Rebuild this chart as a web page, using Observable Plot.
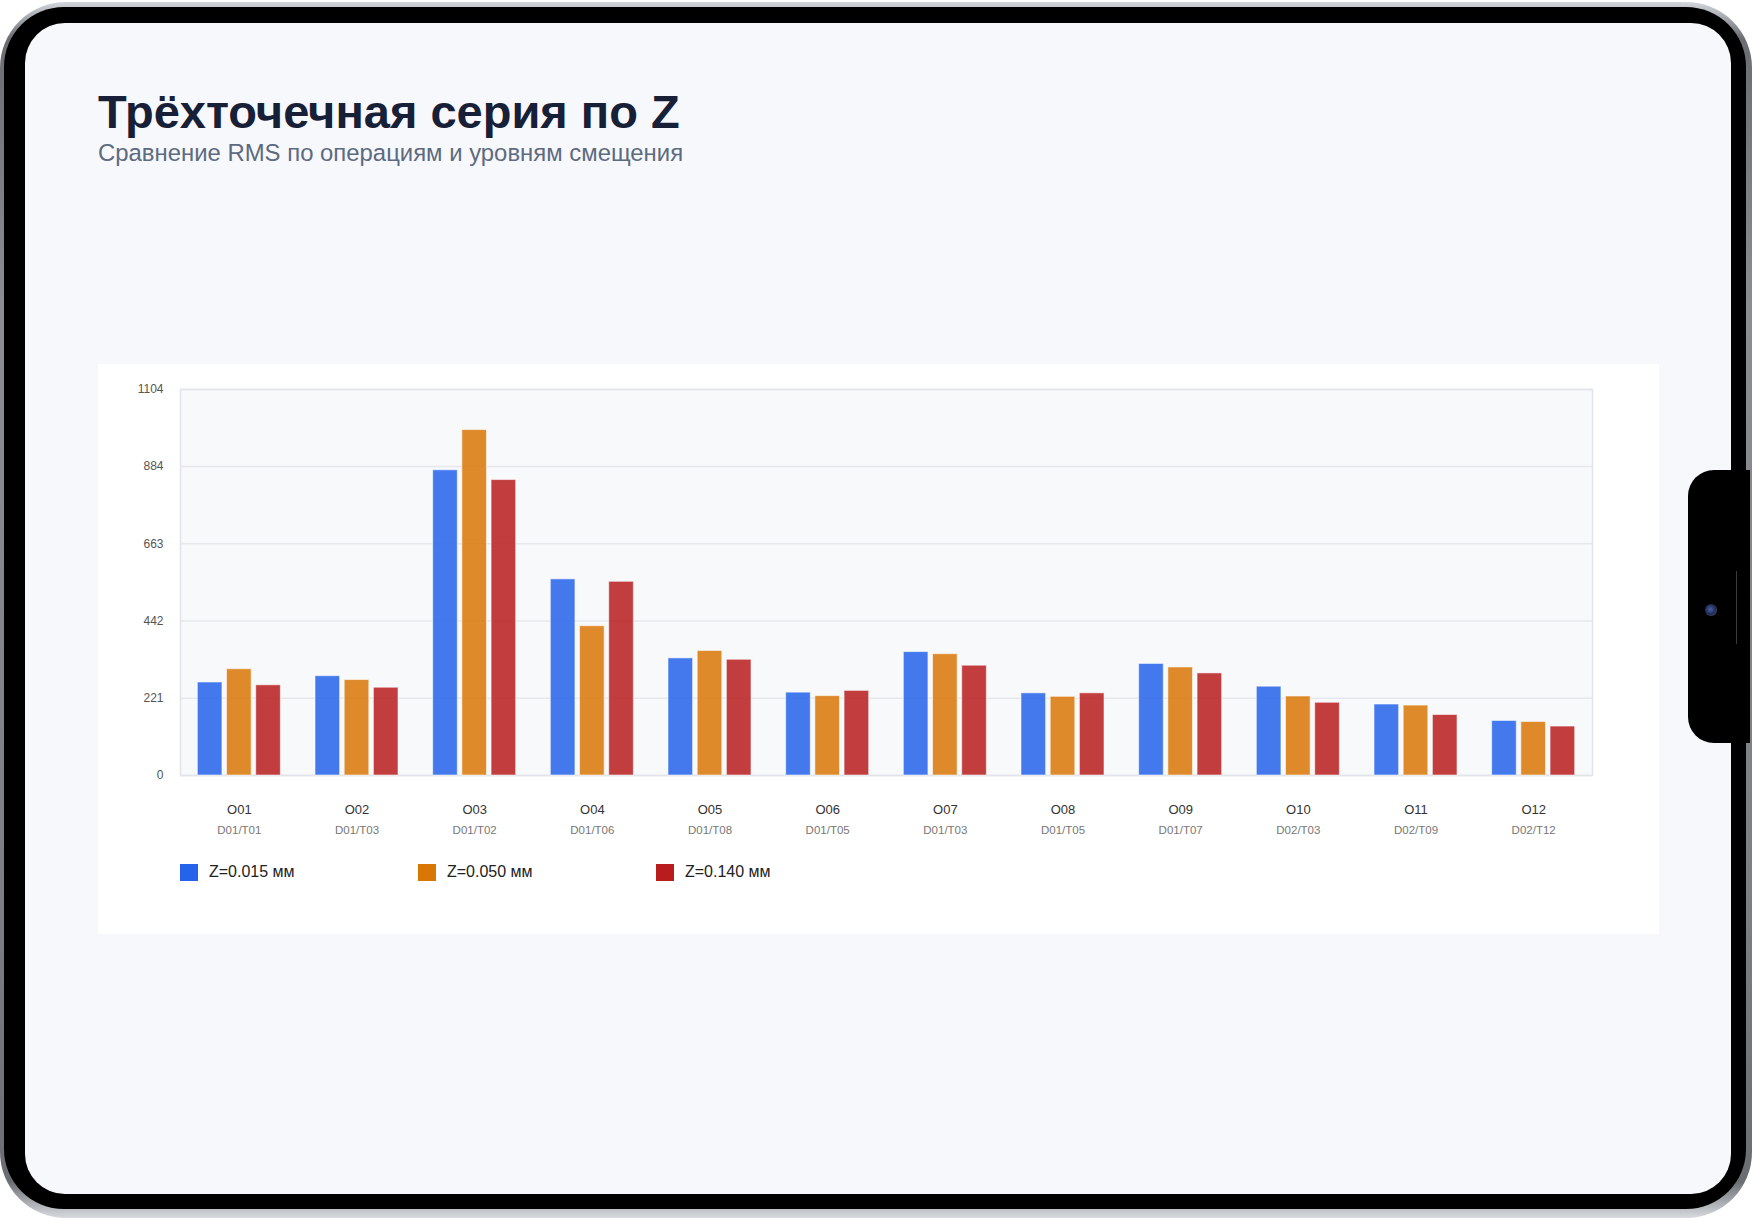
<!DOCTYPE html>
<html lang="ru">
<head>
<meta charset="utf-8">
<script src="https://cdn.jsdelivr.net/npm/d3@7"></script>
<script src="https://cdn.jsdelivr.net/npm/@observablehq/plot@0.6"></script>
<style>
  html, body { margin: 0; padding: 0; }
  body { width: 1753px; height: 1219px; background: #ffffff; position: relative; overflow: hidden;
         font-family: "Liberation Sans", Arial, Helvetica, sans-serif; }
  .rim { position: absolute; left: 0; top: 2px; width: 1752px; height: 1216px; border-radius: 66px;
         background: linear-gradient(180deg, #d3d6da 0%, #6a6d71 3%, #8a8d91 25%, #7b7e82 75%, #6a6d71 97%, #d7dade 100%); }
  .bezel { position: absolute; left: 4px; top: 7px; width: 1742px; height: 1202px; border-radius: 60px; background: #000; }
  .screen { position: absolute; left: 25px; top: 23px; width: 1706px; height: 1171px; border-radius: 40px; background: #f7f8fc; overflow: hidden; }
  .bump { position: absolute; left: 1688px; top: 470px; width: 62px; height: 273px; background: #000; border-radius: 26px 0 0 26px; }
  .cam { position: absolute; left: 1705px; top: 604px; width: 12px; height: 12px; border-radius: 50%;
         background: radial-gradient(circle at 45% 45%, #4a5f9c 0%, #1d2a55 55%, #585c66 80%, #111 100%); }
  .seam { position: absolute; left: 1736px; top: 571px; width: 1px; height: 73px; background: #3a3a3a; }
  .title { position: absolute; left: 98px; top: 88px; font-size: 47px; line-height: 1; font-weight: 700; color: #172036; white-space: nowrap; }
  .subtitle { position: absolute; left: 98px; top: 141px; font-size: 23.9px; line-height: 1; color: #5d6a80; white-space: nowrap; }
  .card { position: absolute; left: 98px; top: 364px; width: 1561px; height: 570px; background: #ffffff; }
  .card svg { position: absolute; left: 0; top: 0; }
  .legend { position: absolute; left: 0; top: 499px; height: 18px; width: 100%; }
  .item { position: absolute; top: 0; height: 18px; display: flex; align-items: center; }
  .sw { width: 18px; height: 17px; margin-right: 11px; }
  .lab { font-size: 16px; color: #222; white-space: nowrap; }
</style>
</head>
<body>
<div class="rim"></div>
<div class="bezel"></div>
<div class="screen"></div>
<div class="bump"></div>
<div class="cam"></div>
<div class="seam"></div>

<div class="title">Трёхточечная серия по Z</div>
<div class="subtitle">Сравнение RMS по операциям и уровням смещения</div>
<div class="card" id="card"></div>

<script>
// Operations (x groups) and their part/tool pairs
const codes = ["O01", "O02", "O03", "O04", "O05", "O06", "O07", "O08", "O09", "O10", "O11", "O12"];
const subs = ["D01/T01", "D01/T03", "D01/T02", "D01/T06", "D01/T08", "D01/T05",
              "D01/T03", "D01/T05", "D01/T07", "D02/T03", "D02/T09", "D02/T12"];

// Offset levels
const seriesNames = ["Z=0.015 мм", "Z=0.050 мм", "Z=0.140 мм"];
const seriesColors = ["#2563eb", "#d97706", "#b91c1c"];

// RMS per operation for each offset level
const z015 = [266, 284, 873, 561, 335, 237, 353, 235, 319, 254, 203, 156];
const z050 = [304, 273, 988, 427, 356, 227, 347, 225, 309, 226, 200, 153];
const z140 = [258, 251, 845, 554, 331, 242, 314, 235, 292, 208, 173, 140];

// Y axis ticks
const yTicks = [0, 221, 442, 663, 884, 1104];
const yMax = 1104;

const seriesValues = [z015, z050, z140];
const rows = codes.flatMap((code, i) =>
  seriesNames.map((s, k) => ({code, series: s, value: seriesValues[k][i]}))
);

// Shared layout so the two layers line up exactly
const layout = {
  width: 1561,
  height: 490,
  marginLeft: 82,
  marginRight: 67,
  marginTop: 25,
  marginBottom: 79,
  style: {background: "transparent", fontFamily: "'Liberation Sans', Arial, Helvetica, sans-serif"}
};

// Back layer: plot background, horizontal grid, border and value axis
const back = Plot.plot({
  ...layout,
  y: {domain: [0, yMax], label: null},
  marks: [
    Plot.frame({fill: "#f8f9fb", stroke: null}),
    Plot.gridY(yTicks, {stroke: "#e6e8ed", strokeOpacity: 1, strokeWidth: 1.5}),
    Plot.frame({stroke: "#e1e4e9", strokeWidth: 1.5}),
    Plot.axisY({ticks: yTicks, tickSize: 0, tickPadding: 17, fontSize: 12, fill: "#555", label: null,
                tickFormat: d => String(d)})
  ]
});

// Front layer: grouped bars and operation axis
const front = Plot.plot({
  ...layout,
  fx: {domain: codes, paddingInner: 0.2946, paddingOuter: 0.1473, round: false, label: null},
  x: {domain: seriesNames, paddingInner: 0.157, paddingOuter: 0, round: false, axis: null},
  y: {domain: [0, yMax], axis: null},
  color: {domain: seriesNames, range: seriesColors},
  marks: [
    Plot.barY(rows, {
      fx: "code", x: "series", y: "value", fill: "series",
      fillOpacity: 0.85, stroke: "#ffffff", strokeOpacity: 0.55, strokeWidth: 1
    }),
    Plot.axisFx({anchor: "bottom", tickSize: 0, tickPadding: 29, fontSize: 13, fill: "#333", label: null}),
    Plot.axisFx({anchor: "bottom", tickSize: 0, tickPadding: 50, fontSize: 11.5, fill: "#777", label: null,
                 tickFormat: c => subs[codes.indexOf(c)]})
  ]
});

const card = document.getElementById("card");
card.appendChild(back);
card.appendChild(front);

// Legend below the plot
const legend = document.createElement("div");
legend.className = "legend";
const legendX = [82, 320, 558];
seriesNames.forEach((name, k) => {
  const item = document.createElement("div");
  item.className = "item";
  item.style.left = legendX[k] + "px";
  const sw = document.createElement("div");
  sw.className = "sw";
  sw.style.background = seriesColors[k];
  const lab = document.createElement("span");
  lab.className = "lab";
  lab.textContent = name;
  item.appendChild(sw);
  item.appendChild(lab);
  legend.appendChild(item);
});
card.appendChild(legend);
</script>
</body>
</html>
